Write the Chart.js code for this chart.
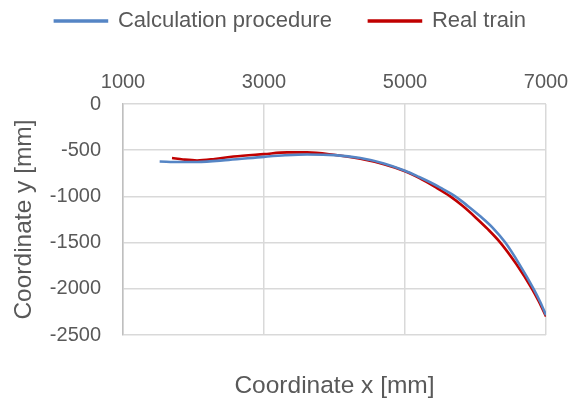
<!DOCTYPE html>
<html>
<head>
<meta charset="utf-8">
<script src="https://cdn.jsdelivr.net/npm/chart.js@4"></script>
<style>
html,body{margin:0;padding:0;background:#fff;}
#wrap{width:571px;height:402px;}
</style>
</head>
<body>
<div id="wrap"><canvas id="c" width="571" height="402"></canvas></div>
<script>
const seriesNames = ["Calculation procedure", "Real train"];
const calcX = [1520, 1800, 2050, 2500, 3000, 3300, 3610, 4000, 4366, 4700, 5000, 5200, 5356, 5500, 5713, 5890, 6068, 6245, 6423, 6623, 6824, 6920, 7000];
const calcY = [-622, -628, -628, -605, -572, -555, -546, -553, -585, -643, -722, -790, -847, -905, -1000, -1103, -1215, -1340, -1500, -1735, -2000, -2145, -2285];
const realX = [1695, 1850, 2050, 2300, 2569, 3000, 3326, 3610, 3988, 4366, 4700, 5000, 5200, 5420, 5642, 5820, 5997, 6175, 6352, 6576, 6801, 6900, 7000];
const realY = [-585, -600, -611, -595, -568, -542, -524, -524, -550, -593, -652, -728, -800, -895, -1000, -1105, -1225, -1355, -1500, -1730, -2000, -2140, -2300];
const xTicks = [1000, 3000, 5000, 7000];
const yTicks = [0, -500, -1000, -1500, -2000, -2500];
const xTitle = "Coordinate x [mm]";
const yTitle = "Coordinate y [mm]";

const FONT = "'Liberation Sans', Arial, sans-serif";
const TXT = '#595959';
const GRID = '#d9d9d9';
const PAD_TOP = -27;
const PAD_LEFT = 10;

const pts = (xs, ys) => xs.map((x, i) => ({x: x, y: ys[i]}));

new Chart(document.getElementById('c'), {
  type: 'scatter',
  data: {
    datasets: [
      {label: seriesNames[0], data: pts(calcX, calcY), showLine: true, borderColor: '#5585C5', backgroundColor: '#5585C5', borderWidth: 2.6, pointRadius: 0, cubicInterpolationMode: 'monotone'},
      {label: seriesNames[1], data: pts(realX, realY), showLine: true, borderColor: '#C00000', backgroundColor: '#C00000', borderWidth: 2.6, pointRadius: 0, cubicInterpolationMode: 'monotone'}
    ]
  },
  options: {
    responsive: false,
    animation: false,
    layout: {padding: {left: PAD_LEFT, right: 0, top: PAD_TOP, bottom: 0}},
    plugins: {
      legend: {
        position: 'top',
        labels: {font: {family: FONT, size: 22}, color: TXT, boxWidth: 52, boxHeight: 1, padding: 37}
      },
      tooltip: {enabled: false}
    },
    scales: {
      x: {
        type: 'linear', position: 'top', min: 1000, max: 7000,
        afterBuildTicks: s => { s.ticks = xTicks.map(v => ({value: v})); },
        ticks: {font: {family: FONT, size: 20}, color: TXT, padding: 10, callback: v => String(v)},
        grid: {color: GRID, lineWidth: 1.5, drawTicks: false},
        border: {display: false},
        afterFit: s => {
          const lg = s.chart.legend;
          const lh = (lg && isFinite(lg.height)) ? lg.height : 100;
          s.height = 104 - PAD_TOP - lh;
          s.paddingRight = 25;
          s.paddingLeft = 0;
        }
      },
      x2: {
        type: 'linear', position: 'bottom', min: 1000, max: 7000,
        ticks: {display: false},
        grid: {display: false, drawTicks: false},
        border: {display: false},
        title: {display: true, text: xTitle, font: {family: FONT, size: 24.5}, color: TXT, padding: {top: 0, bottom: 1}},
        afterFit: s => { s.height = 402 - 335; s.paddingRight = 25; s.paddingLeft = 0; }
      },
      y: {
        type: 'linear', position: 'left', min: -2500, max: 0,
        afterBuildTicks: s => { s.ticks = yTicks.map(v => ({value: v})); },
        ticks: {font: {family: FONT, size: 20}, color: TXT, padding: 22, callback: v => String(v)},
        grid: {color: GRID, lineWidth: 1.5, drawTicks: false},
        border: {display: true, color: '#bfbfbf', width: 1.5},
        title: {display: true, text: yTitle, font: {family: FONT, size: 24.5}, color: TXT, padding: {top: 0, bottom: 0}},
        afterFit: s => { s.width = 123 - PAD_LEFT; s.paddingTop = 0; s.paddingBottom = 0; }
      }
    }
  }
});
</script>
</body>
</html>
